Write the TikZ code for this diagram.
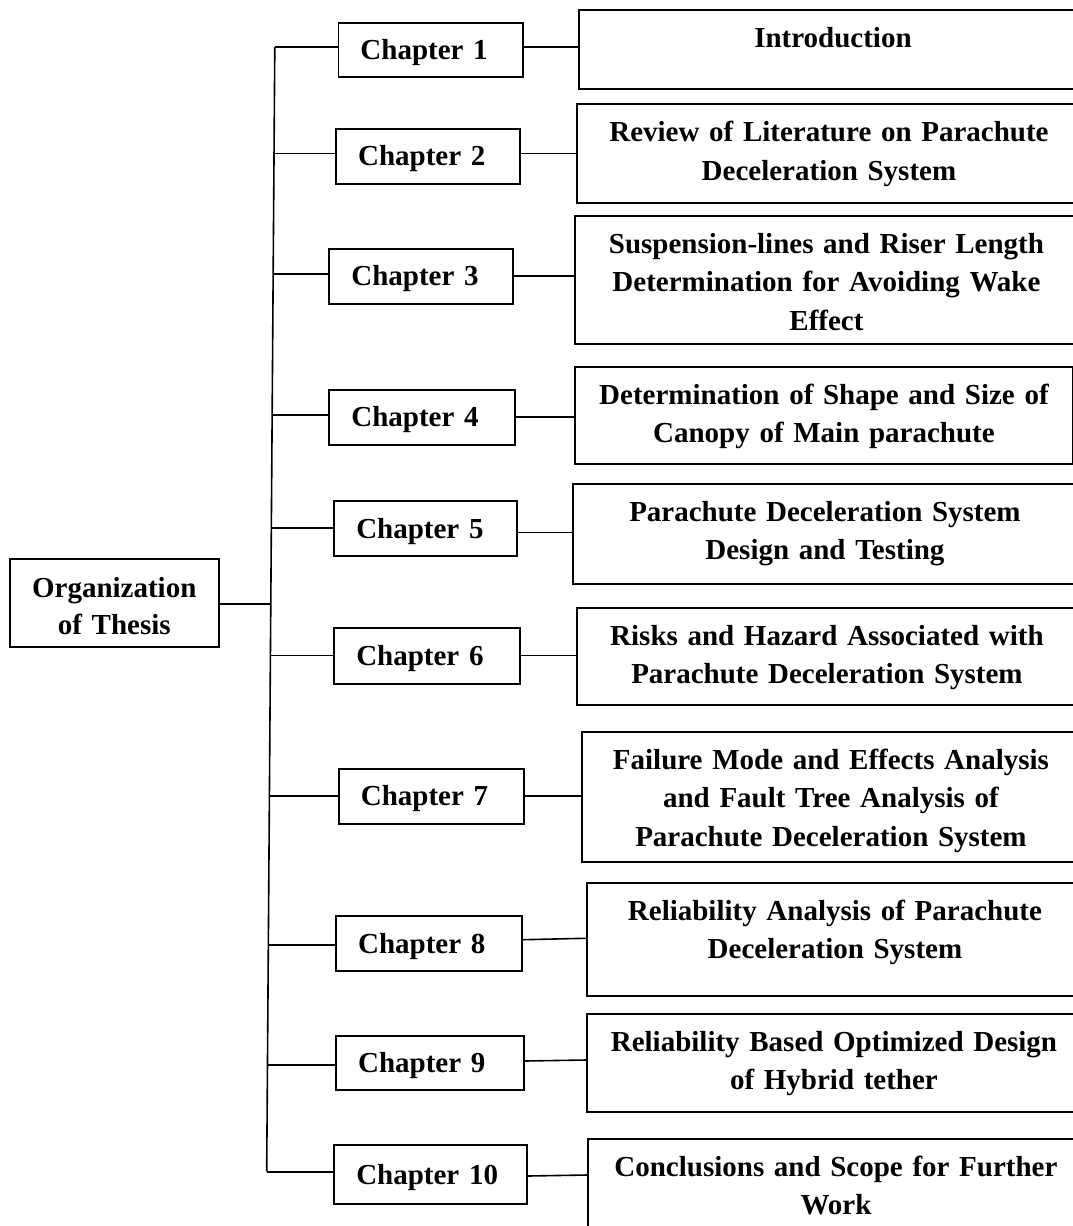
\documentclass[tikz,border=0pt]{standalone}
\usepackage{fontspec}
\setmainfont{Liberation Serif}
\newcommand\rfont{\fontsize{29}{38.5}\selectfont\bfseries}
\newcommand\ofont{\fontsize{29}{36.6}\selectfont\bfseries}
\begin{document}
\begin{tikzpicture}[x=1pt,y=-1pt,
  rbox/.style={draw, line width=1.9pt, inner sep=0pt, align=center, anchor=north west, font=\rfont, text height=37.5pt},
  chap/.style={draw, line width=1.9pt, inner xsep=22pt, inner ysep=0pt, align=left, anchor=north west, font=\rfont, text height=19pt, text depth=0pt},
  conn/.style={line width=1.6pt}]
\useasboundingbox (0,0) rectangle (1073,1226);
\clip (0,0) rectangle (1073,1226);
\fill[white] (0,0) rectangle (1073,1226);

% root
\node[draw, line width=1.9pt, inner sep=0pt, align=center, anchor=north west, font=\ofont,
  text width=209pt, text height=39pt, text depth=49.3pt] (org) at (8.8,557.7) {Organization\\of Thesis};

% chapter boxes
\node[chap, text width=140.1pt, minimum height=54.6pt] (c1) at (337.5,21.7) {Chapter 1};
\node[chap, text width=139.4pt, minimum height=55pt] (c2) at (335.2,127.7) {Chapter 2};
\node[chap, text width=139.3pt, minimum height=55pt] (c3) at (328.4,248) {Chapter 3};
\node[chap, text width=141.6pt, minimum height=55pt] (c4) at (328.4,389) {Chapter 4};
\node[chap, text width=139pt, minimum height=54.7pt] (c5) at (333.3,500.3) {Chapter 5};
\node[chap, text width=141.3pt, minimum height=55.7pt] (c6) at (333.3,627) {Chapter 6};
\node[chap, text width=141.3pt, minimum height=54.4pt] (c7) at (337.9,768.3) {Chapter 7};
\node[chap, text width=141.7pt, minimum height=54.7pt] (c8) at (335.2,915.3) {Chapter 8};
\node[chap, text width=144pt, minimum height=54.6pt] (c9) at (335.2,1034.7) {Chapter 9};
\node[chap, text width=148.5pt, minimum height=59.3pt] (c10) at (333.3,1144) {Chapter 10};

% right boxes
\node[rbox, text width=508pt, text depth=41.8pt] (r1) at (578,9) {Introduction};
\node[rbox, text width=504pt, text depth=61.5pt] (r2) at (576,103.3) {Review of Literature on Parachute\\Deceleration System};
\node[rbox, text width=503pt, text depth=90.8pt] (r3) at (574,215) {Suspension-lines and Riser Length\\Determination for Avoiding Wake\\Effect};
\node[rbox, text width=498pt, text depth=59.8pt] (r4) at (574,366) {Determination of Shape and Size of\\Canopy of Main parachute};
\node[rbox, text width=504pt, text depth=63.1pt] (r5) at (572,482.7) {Parachute Deceleration System\\Design and Testing};
\node[rbox, text width=500pt, text depth=60.1pt] (r6) at (576,606.7) {Risks and Hazard Associated with\\Parachute Deceleration System};
\node[rbox, text width=498pt, text depth=92.5pt] (r7) at (581,731) {Failure Mode and Effects Analysis\\and Fault Tree Analysis of\\Parachute Deceleration System};
\node[rbox, text width=496pt, text depth=75.8pt] (r8) at (586,882) {Reliability Analysis of Parachute\\Deceleration System};
\node[rbox, text width=494pt, text depth=61.1pt] (r9) at (586,1012.7) {Reliability Based Optimized Design\\of Hybrid tether};
\node[rbox, text width=496pt, text depth=94.5pt] (r10) at (587,1137.7) {Conclusions and Scope for Further\\Work};

% trunk
\coordinate (ttop) at (274.8,47);
\coordinate (tbot) at (266.7,1171.7);
\coordinate (t2) at (274.0,153.3);
\coordinate (t3) at (273.2,273.7);
\coordinate (t4) at (272.2,415);
\coordinate (t5) at (271.3,528);
\coordinate (torg) at (270.8,604);
\coordinate (t6) at (270.4,655.3);
\coordinate (t7) at (269.4,795.7);
\coordinate (t8) at (268.3,945);
\coordinate (t9) at (267.5,1064.7);
\draw[conn] (ttop) -- (tbot);
\draw[conn] (org.east |- torg) -- (torg);

% branches to chapters
\draw[conn] (ttop) -- (ttop -| c1.west);
\draw[conn] (t2) -- (t2 -| c2.west);
\draw[conn] (t3) -- (t3 -| c3.west);
\draw[conn] (t4) -- (t4 -| c4.west);
\draw[conn] (t5) -- (t5 -| c5.west);
\draw[conn] (t6) -- (t6 -| c6.west);
\draw[conn] (t7) -- (t7 -| c7.west);
\draw[conn] (t8) -- (t8 -| c8.west);
\draw[conn] (t9) -- (t9 -| c9.west);
\draw[conn] (tbot) -- (tbot -| c10.west);

% chapters to topics
\draw[conn] (c1.east |- 0,47) -- (r1.west |- 0,47);
\draw[conn] (c2.east |- 0,153.3) -- (r2.west |- 0,153.3);
\draw[conn] (c3.east |- 0,276) -- (r3.west |- 0,276);
\draw[conn] (c4.east |- 0,417) -- (r4.west |- 0,417);
\draw[conn] (c5.east |- 0,532.3) -- (r5.west |- 0,532.3);
\draw[conn] (c6.east |- 0,655.3) -- (r6.west |- 0,655.3);
\draw[conn] (c7.east |- 0,796) -- (r7.west |- 0,796);
\draw[conn] (c8.east |- 0,939.7) -- (r8.west |- 0,938.3);
\draw[conn] (c9.east |- 0,1061) -- (r9.west |- 0,1060);
\draw[conn] (c10.east |- 0,1176) -- (r10.west |- 0,1175);
\end{tikzpicture}
\end{document}
